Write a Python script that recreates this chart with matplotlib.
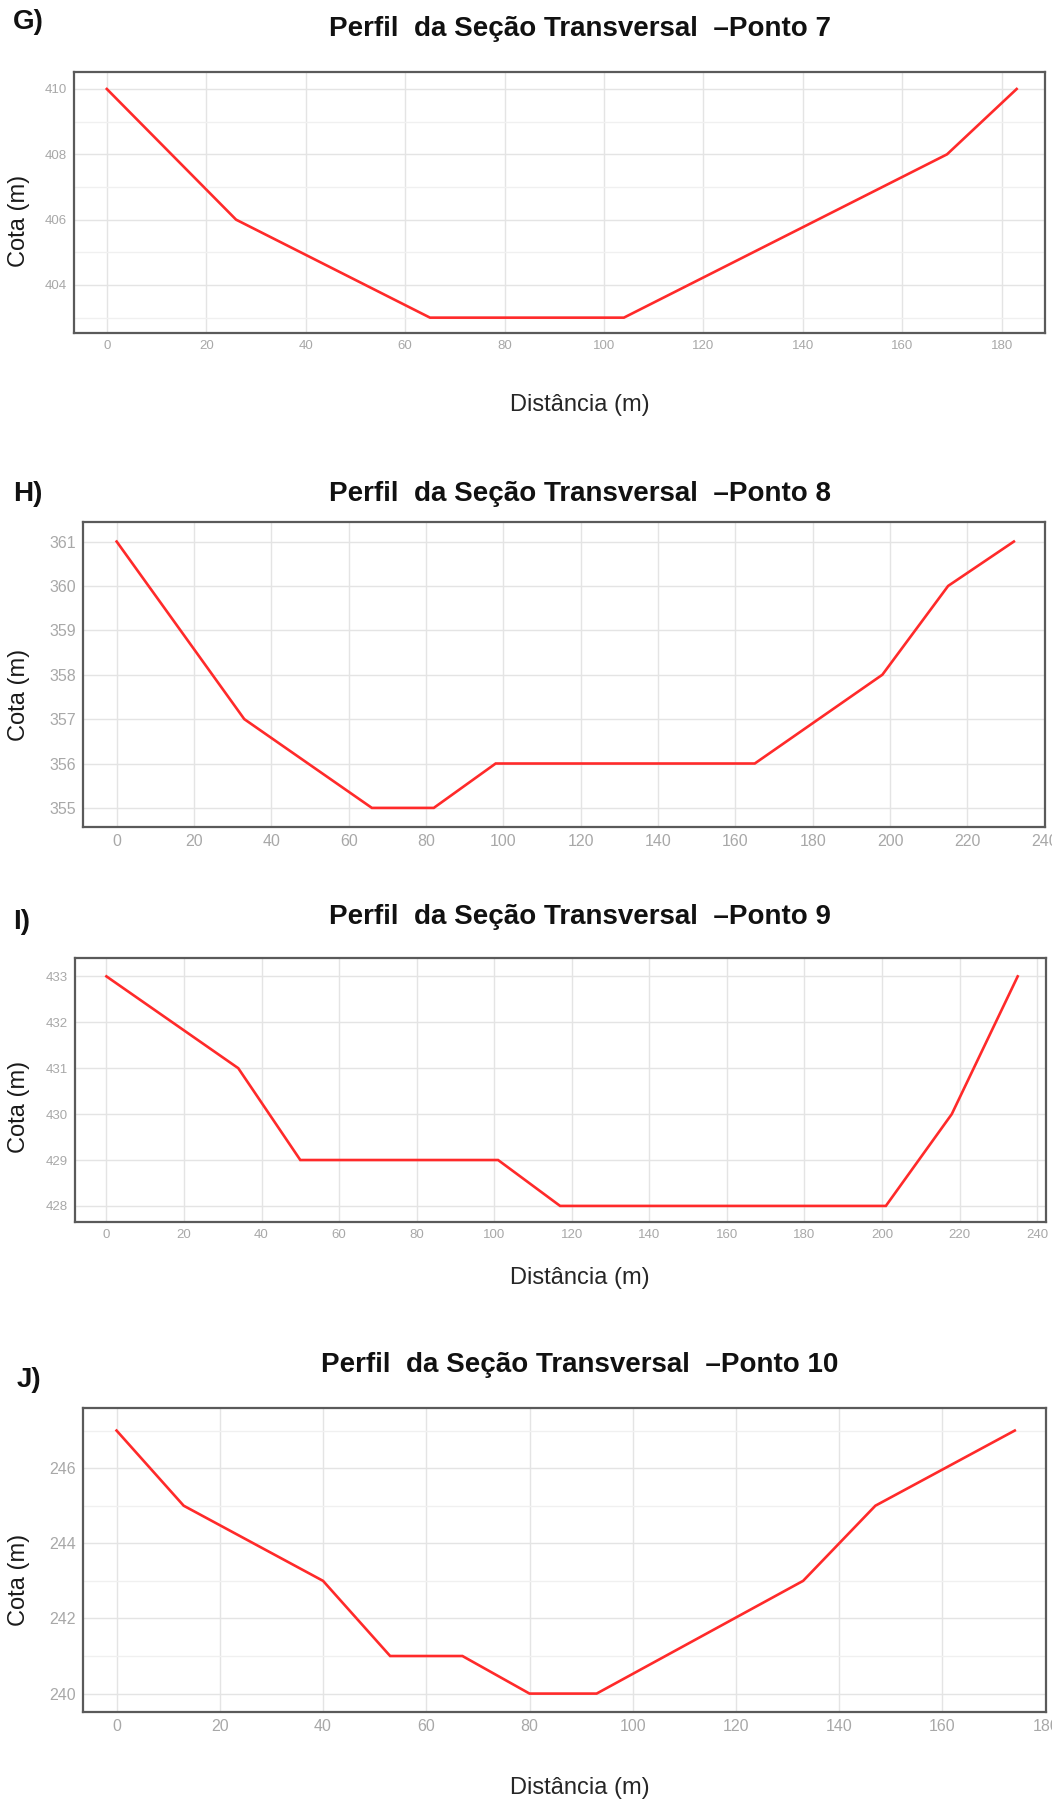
import matplotlib
matplotlib.use("Agg")
import matplotlib.pyplot as plt
from matplotlib.ticker import MultipleLocator

plt.rcParams['font.family'] = ['Liberation Sans', 'DejaVu Sans']

# ---------------- data ----------------
titles = ["Perfil  da Seção Transversal  –Ponto 7",
          "Perfil  da Seção Transversal  –Ponto 8",
          "Perfil  da Seção Transversal  –Ponto 9",
          "Perfil  da Seção Transversal  –Ponto 10"]
panel_letters = ["G)", "H)", "I)", "J)"]

dist_p7 = [0, 26, 65, 104, 169, 183]
cota_p7 = [410, 406, 403, 403, 408, 410]

dist_p8 = [0, 33, 66, 82, 98, 165, 198, 215, 232]
cota_p8 = [361, 357, 355, 355, 356, 356, 358, 360, 361]

dist_p9 = [0, 34, 50, 101, 117, 201, 218, 235]
cota_p9 = [433, 431, 429, 429, 428, 428, 430, 433]

dist_p10 = [0, 13, 40, 53, 67, 80, 93, 133, 147, 174]
cota_p10 = [247, 245, 243, 241, 241, 240, 240, 243, 245, 247]

xlabel = "Distância (m)"
ylabel = "Cota (m)"

# ---------------- layout ----------------
W, H = 1052, 1803
fig = plt.figure(figsize=(W / 100, H / 100), dpi=100)

def ax_rect(l, r, t, b):
    return [l / W, 1 - b / H, (r - l) / W, (b - t) / H]

panels = [
    dict(x=dist_p7, y=cota_p7, rect=(74, 1045, 72, 333), xlim=(-6.6, 188.7), ylim=(402.53, 410.52),
         xmaj=20, ymaj=2, ymin=1, tsize=9.5, title_y=29, letter_xy=(13, 22), xlab_y=405, ylab_y=221),
    dict(x=dist_p8, y=cota_p8, rect=(83, 1045, 522, 827), xlim=(-8.7, 240.05), ylim=(354.57, 361.44),
         xmaj=20, ymaj=1, ymin=None, tsize=11.5, title_y=494, letter_xy=(13, 494), xlab_y=None, ylab_y=695),
    dict(x=dist_p9, y=cota_p9, rect=(75, 1046, 958, 1222), xlim=(-8.1, 242.3), ylim=(427.65, 433.4),
         xmaj=20, ymaj=1, ymin=None, tsize=9.5, title_y=917, letter_xy=(13, 922), xlab_y=1278, ylab_y=1107),
    dict(x=dist_p10, y=cota_p10, rect=(83, 1046, 1408, 1712), xlim=(-6.5, 180.05), ylim=(239.51, 247.6),
         xmaj=20, ymaj=2, ymin=1, tsize=11.5, title_y=1365, letter_xy=(17, 1380), xlab_y=1788, ylab_y=1580),
]

for p, title, letter in zip(panels, titles, panel_letters):
    ax = fig.add_axes(ax_rect(*p['rect']))
    ax.plot(p['x'], p['y'], color='#ff2a2a', lw=1.9, solid_joinstyle='miter', zorder=3)
    ax.set_xlim(*p['xlim'])
    ax.set_ylim(*p['ylim'])
    ax.xaxis.set_major_locator(MultipleLocator(p['xmaj']))
    ax.yaxis.set_major_locator(MultipleLocator(p['ymaj']))
    if p['ymin']:
        ax.yaxis.set_minor_locator(MultipleLocator(p['ymin']))
        ax.grid(True, which='minor', axis='y', color='#f0f0f0', lw=1.0, zorder=0)
    ax.grid(True, which='major', color='#e4e4e4', lw=1.0, zorder=0)
    ax.set_axisbelow(True)
    ax.tick_params(which='both', length=0, labelsize=p['tsize'], labelcolor='#a8a8a8', pad=5)
    for s in ax.spines.values():
        s.set_color('#5a5a5a')
        s.set_linewidth(1.6)
    fig.text(580 / W, 1 - p['title_y'] / H, title, ha='center', va='center',
             fontsize=20, fontweight='bold', color='#111111')
    lx, ly = p['letter_xy']
    fig.text(lx / W, 1 - ly / H, letter, ha='left', va='center',
             fontsize=20, fontweight='bold', color='#111111')
    if p['xlab_y'] is not None:
        fig.text(580 / W, 1 - p['xlab_y'] / H, xlabel, ha='center', va='center',
                 fontsize=17, color='#262626')
    fig.text(19 / W, 1 - p['ylab_y'] / H, ylabel, ha='center', va='center',
             rotation=90, fontsize=17, color='#1a1a1a')

fig.savefig("out.png", dpi=100)
